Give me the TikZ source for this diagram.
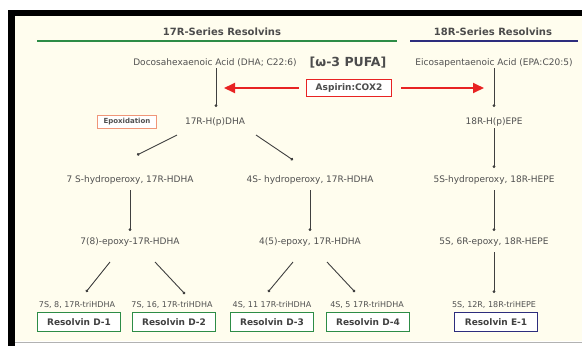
\documentclass[tikz,border=0pt]{standalone}
\usepackage{fontspec}
\setmainfont{DejaVu Sans}
\usetikzlibrary{arrows.meta}

\definecolor{cream}{RGB}{255,253,238}
\definecolor{dgreen}{RGB}{45,140,70}
\definecolor{navy}{RGB}{45,45,125}
\definecolor{aspred}{RGB}{232,35,35}
\definecolor{salmon}{RGB}{240,150,120}
\definecolor{txtgray}{RGB}{80,80,80}

\tikzset{
  lbl/.style={font=\fontsize{9}{10}\selectfont, text=txtgray, inner sep=1pt},
  trilbl/.style={font=\fontsize{8}{9}\selectfont, text=txtgray, inner sep=1pt},
  series/.style={font=\fontsize{10}{11}\selectfont\bfseries, text=black!70},
  resbox/.style={draw=#1, line width=1.6pt, fill=white, minimum width=83pt,
    minimum height=19pt, font=\fontsize{9}{10}\selectfont\bfseries, text=black!75},
  arr/.style={-{Circle[length=2.8pt]}, line width=0.9pt, black!75},
  redarr/.style={-{Triangle[length=11pt,width=10pt]}, line width=1.8pt, aspred},
}

\begin{document}
\begin{tikzpicture}[x=1pt, y=-1pt]
  \useasboundingbox (0,0) rectangle (582,346);
  % frame
  \fill[white] (0,0) rectangle (582,346);
  \fill[cream] (15,16) rectangle (582,341);
  \draw[gray!60, line width=1pt] (15,342) -- (582,342);
  \fill[black] (8,10) rectangle (582,16);
  \fill[black] (8,10) rectangle (15,346);
  % series headings
  \node[series] (t17) at (222,32) {17R-Series Resolvins};
  \node[series] (t18) at (493,32) {18R-Series Resolvins};
  \draw[dgreen, line width=2.5pt] (37,41) -- (397,41);
  \draw[navy, line width=2.5pt] (410,41) -- (578,41);
  % precursors
  \node[lbl] (dha) at (215,63) {Docosahexaenoic Acid (DHA; C22:6)};
  \node[font=\fontsize{12.5}{13}\selectfont\bfseries, text=black!70] (pufa) at (348,63) {[ω-3 PUFA]};
  \node[lbl] (epa) at (494,63) {Eicosapentaenoic Acid (EPA:C20:5)};
  \node[draw=aspred, line width=1.5pt, fill=white, minimum width=85pt, minimum height=17pt,
    font=\fontsize{9}{10}\selectfont\bfseries, text=black!70] (asp) at (349,88) {Aspirin:COX2};
  \coordinate (dhaln) at (224,88);
  \coordinate (epaln) at (484,88);
  \draw[redarr, shorten <=7pt] (asp.west) -- (dhaln);
  \draw[redarr, shorten <=9pt] (asp.east) -- (epaln);
  % 17R series
  \node[draw=salmon, line width=0.8pt, fill=white, minimum width=59pt, minimum height=13pt,
    font=\fontsize{7}{8}\selectfont\bfseries, text=txtgray] (epox) at (127,122) {Epoxidation};
  \node[lbl] (hpdha) at (215,122) {17R-H(p)DHA};
  \node[lbl] (s7) at (130,180) {7 S-hydroperoxy, 17R-HDHA};
  \node[lbl] (s4) at (310,180) {4S- hydroperoxy, 17R-HDHA};
  \node[lbl] (ep78) at (130,242) {7(8)-epoxy-17R-HDHA};
  \node[lbl] (ep45) at (310,242) {4(5)-epoxy, 17R-HDHA};
  \node[trilbl] (tri1) at (77,305) {7S, 8, 17R-triHDHA};
  \node[trilbl] (tri2) at (172,305) {7S, 16, 17R-triHDHA};
  \node[trilbl] (tri3) at (272,305) {4S, 11 17R-triHDHA};
  \node[trilbl] (tri4) at (367,305) {4S, 5 17R-triHDHA};
  \node[resbox=dgreen] (rv1) at (79,322) {Resolvin D-1};
  \node[resbox=dgreen] (rv2) at (174,322) {Resolvin D-2};
  \node[resbox=dgreen] (rv3) at (272,322) {Resolvin D-3};
  \node[resbox=dgreen] (rv4) at (368,322) {Resolvin D-4};
  \draw[arr] ([shift={(1,5)}]dha.center) -- ([shift={(1,-15)}]hpdha.center);
  \draw[arr] ([shift={(-38,13)}]hpdha.center) -- ([shift={(7,-25)}]s7.center);
  \draw[arr] ([shift={(41,13)}]hpdha.center) -- ([shift={(-17,-20)}]s4.center);
  \draw[arr] ([shift={(0,10)}]s7.center) -- ([shift={(0,-11)}]ep78.center);
  \draw[arr] ([shift={(0,10)}]s4.center) -- ([shift={(0,-11)}]ep45.center);
  \draw[arr] ([shift={(-20,20)}]ep78.center) -- ([shift={(9,-13)}]tri1.center);
  \draw[arr] ([shift={(25,20)}]ep78.center) -- ([shift={(13,-11)}]tri2.center);
  \draw[arr] ([shift={(-17,20)}]ep45.center) -- ([shift={(-4,-13)}]tri3.center);
  \draw[arr] ([shift={(17,20)}]ep45.center) -- ([shift={(-12,-13)}]tri4.center);
  % 18R series
  \node[lbl] (hpepe) at (494,122) {18R-H(p)EPE};
  \node[lbl] (s5) at (494,180) {5S-hydroperoxy, 18R-HEPE};
  \node[lbl] (ep56) at (494,242) {5S, 6R-epoxy, 18R-HEPE};
  \node[trilbl] (tri5) at (494,305) {5S, 12R, 18R-triHEPE};
  \node[resbox=navy] (rve1) at (496,322) {Resolvin E-1};
  \draw[arr] ([shift={(0,5)}]epa.center) -- ([shift={(0,-15)}]hpepe.center);
  \draw[arr] ([shift={(0,6)}]hpepe.center) -- ([shift={(0,-12)}]s5.center);
  \draw[arr] ([shift={(0,10)}]s5.center) -- ([shift={(0,-11)}]ep56.center);
  \draw[arr] ([shift={(0,10)}]ep56.center) -- ([shift={(0,-12)}]tri5.center);
\end{tikzpicture}
\end{document}
